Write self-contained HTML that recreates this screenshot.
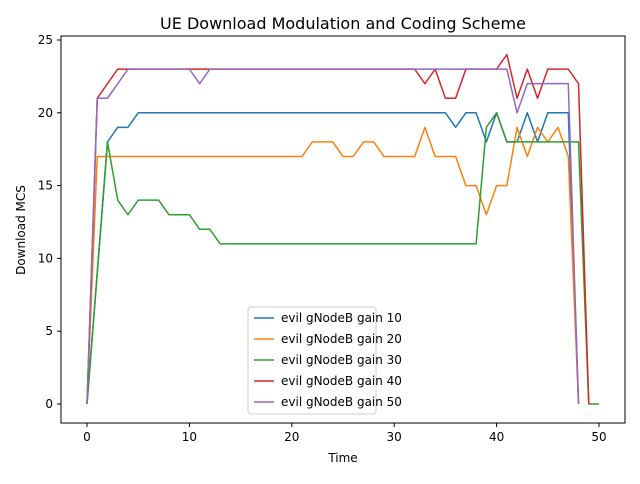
<!DOCTYPE html>
<html><head><meta charset="utf-8"><style>
body{margin:0;background:#fff;font-family:"DejaVu Sans","Liberation Sans",sans-serif}
svg text{font-family:"DejaVu Sans","Liberation Sans",sans-serif}
</style></head><body>
<svg id="c" width="640" height="480" xmlns="http://www.w3.org/2000/svg"></svg>
<script>
const labels=["evil gNodeB gain 10","evil gNodeB gain 20","evil gNodeB gain 30","evil gNodeB gain 40","evil gNodeB gain 50"];
const colors=["#1f77b4","#ff7f0e","#2ca02c","#d62728","#9467bd"];
const s10=[0,9,18,19,19,20,20,20,20,20,20,20,20,20,20,20,20,20,20,20,20,20,20,20,20,20,20,20,20,20,20,20,20,20,20,20,19,20,20,18,20,18,18,20,18,20,20,20,0];
const s20=[0,17,17,17,17,17,17,17,17,17,17,17,17,17,17,17,17,17,17,17,17,17,18,18,18,17,17,18,18,17,17,17,17,19,17,17,17,15,15,13,15,15,19,17,19,18,19,17,0];
const s30=[0,9,18,14,13,14,14,14,13,13,13,12,12,11,11,11,11,11,11,11,11,11,11,11,11,11,11,11,11,11,11,11,11,11,11,11,11,11,11,19,20,18,18,18,18,18,18,18,18,0,0];
const s40=[0,21,22,23,23,23,23,23,23,23,23,23,23,23,23,23,23,23,23,23,23,23,23,23,23,23,23,23,23,23,23,23,23,22,23,21,21,23,23,23,23,24,21,23,21,23,23,23,22,0];
const s50=[0,21,21,22,23,23,23,23,23,23,23,22,23,23,23,23,23,23,23,23,23,23,23,23,23,23,23,23,23,23,23,23,23,23,23,23,23,23,23,23,23,23,20,22,22,22,22,22,0];
const series=[s10,s20,s30,s40,s50];
const xTicks=[0,10,20,30,40,50];
const yTicks=[0,5,10,15,20,25];
const L=61,R=625,T=36,B=423;
const X=v=>87+v*10.24, Y=v=>404-v*14.56;
const svg=document.getElementById('c');const NS="http://www.w3.org/2000/svg";
function mk(t,a,p){const e=document.createElementNS(NS,t);for(const k in a)e.setAttribute(k,a[k]);(p||svg).appendChild(e);return e;}
const title=mk('text',{x:343,y:29,'text-anchor':'middle','font-size':16});title.textContent="UE Download Modulation and Coding Scheme";


xTicks.forEach(v=>{mk('line',{x1:X(v),x2:X(v),y1:B,y2:B+4,stroke:'#000'});const t=mk('text',{x:X(v),y:B+18,'text-anchor':'middle','font-size':12});t.textContent=v;

});
yTicks.forEach(v=>{mk('line',{x1:L-4,x2:L,y1:Y(v),y2:Y(v),stroke:'#000'});const t=mk('text',{x:L-8,y:Y(v)+4,'text-anchor':'end','font-size':12});t.textContent=v;

});
const xt=mk('text',{x:343,y:462,'text-anchor':'middle','font-size':12});xt.textContent="Time";


const yt=mk('text',{x:25,y:230,'text-anchor':'middle','font-size':12,transform:'rotate(-90 25 230)'});yt.textContent="Download MCS";


series.forEach((s,i)=>{const p=mk('polyline',{points:s.map((v,j)=>X(j)+','+Y(v)).join(' '),fill:'none',stroke:colors[i],'stroke-width':1.5,'stroke-linejoin':'round'});

});
mk('rect',{x:L,y:T,width:R-L,height:B-T,fill:'none',stroke:'#000','stroke-width':1});
const lg=mk('rect',{x:248,y:307,width:128,height:107,rx:3,fill:'#fff','fill-opacity':0.8,stroke:'#ccc'});


labels.forEach((l,i)=>{const y=318+i*21;mk('line',{x1:254,x2:274,y1:y,y2:y,stroke:colors[i],'stroke-width':1.5});const t=mk('text',{x:281,y:y+4,'font-size':12});t.textContent=l;

});
</script>
</body></html>
